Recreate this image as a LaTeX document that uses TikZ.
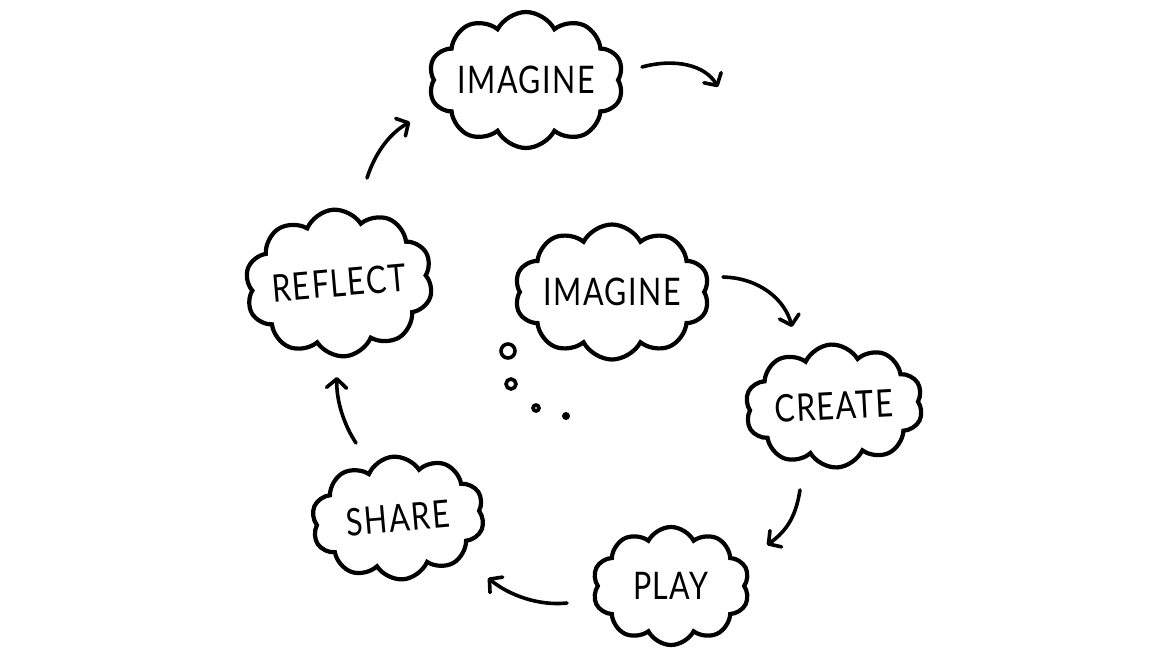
\documentclass[tikz,border=0pt]{standalone}
\usepackage{fontspec}
\setmainfont{Lato}[FakeStretch=0.8,LetterSpace=4]
\usetikzlibrary{shapes.symbols,arrows.meta}
\begin{document}
\begin{tikzpicture}[x=1pt,y=-1pt,
  cl/.style={cloud, cloud puffs=10, cloud puff arc=125, cloud ignores aspect,
    draw, line width=4.2pt, inner sep=0pt, font=\fontsize{38}{38}\selectfont},
  arr/.style={line width=3.6pt, line cap=round,
    -{Straight Barb[length=9pt,width=20pt,line width=3.6pt,round]}},
  bub/.style={draw, circle, line width=3.6pt, inner sep=0pt}]
\fill[white] (0,0) rectangle (1166,656);
\useasboundingbox (0,0) rectangle (1166,656);

\node[cl, minimum width=195, minimum height=136] (img1) at (526,80) {IMAGINE};
\node[cl, minimum width=188, minimum height=147, rotate=5] (refl) at (339,283) {REFLECT};
\node[cl, minimum width=195, minimum height=135] (img2) at (612,292) {IMAGINE};
\node[cl, minimum width=178, minimum height=123, rotate=3] (crea) at (834,406) {CREATE};
\node[cl, minimum width=157, minimum height=118] (play) at (671,586) {PLAY};
\node[cl, minimum width=173, minimum height=123, rotate=5] (shar) at (398,518) {SHARE};

\node[bub, minimum size=14] (b1) at (508,351) {};
\node[bub, minimum size=10] (b2) at (511,384) {};
\node[bub, minimum size=6] (b3) at (536,408) {};
\node[circle, fill, inner sep=0pt, minimum size=8] (b4) at (566,416) {};

\coordinate (a1s) at (642,67);  \coordinate (a1e) at (718,87);
\coordinate (a2s) at (723,277); \coordinate (a2e) at (792,327);
\coordinate (a3s) at (800,490); \coordinate (a3e) at (767,545);
\coordinate (a4s) at (567,603); \coordinate (a4e) at (488,578);
\coordinate (a5s) at (356,443); \coordinate (a5e) at (337,377);
\coordinate (a6s) at (367,178); \coordinate (a6e) at (410,122);

\draw[arr] (a1s) .. controls (675,58) and (705,65) .. (a1e);
\draw[arr] (a2s) .. controls (760,278) and (785,300) .. (a2e);
\draw[arr] (a3s) .. controls (796,515) and (788,530) .. (a3e);
\draw[arr] (a4s) .. controls (540,606) and (510,596) .. (a4e);
\draw[arr] (a5s) .. controls (344,425) and (336,400) .. (a5e);
\draw[arr] (a6s) .. controls (376,150) and (392,132) .. (a6e);
\end{tikzpicture}
\end{document}
